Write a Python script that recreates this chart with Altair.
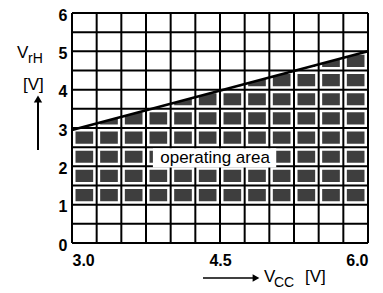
import altair as alt
import pandas as pd

# grid lines (cell boundaries)
x_grid = [3.0, 3.25, 3.5, 3.75, 4.0, 4.25, 4.5, 4.75, 5.0, 5.25, 5.5, 5.75, 6.0]
y_grid = [0.0, 0.5, 1.0, 1.5, 2.0, 2.5, 3.0, 3.5, 4.0, 4.5, 5.0, 5.5, 6.0]

# boundary of the operating area
vcc = [3.0, 6.0]
vrh_upper = [2.95, 5.0]
vrh_lower = [1.0, 1.0]

# axis tick labels
x_ticks = [3.0, 4.5, 6.0]
y_ticks = [0, 1, 2, 3, 4, 5, 6]

# label
label_text = "operating area"
label_x, label_y = 4.45, 2.22
label_box_x = [3.82, 5.07]
label_box_y = [1.97, 2.47]

W, H = 296, 230
FONT = "Liberation Sans"

xs = alt.Scale(domain=[3.0, 6.0], nice=False, zero=False)
ys = alt.Scale(domain=[0, 6], nice=False, zero=False)

X_AX = alt.Axis(values=x_ticks, format=".1f", title=None, grid=False,
                ticks=False, domain=False, labelFont=FONT, labelFontSize=16,
                labelFontWeight="bold", labelColor="black", labelPadding=9,
                labelFlush=True, labelOverlap=False)
Y_AX = alt.Axis(values=y_ticks, format="d", title=None, grid=False,
                ticks=False, domain=False, labelFont=FONT, labelFontSize=16,
                labelFontWeight="bold", labelColor="black", labelPadding=5,
                labelOverlap=False, labelFlush=False, labelOffset=2)

def X(f):
    return alt.X(f, scale=xs, axis=X_AX, title=None)

def Y(f):
    return alt.Y(f, scale=ys, axis=Y_AX, title=None)

area_df = pd.DataFrame({"vcc": vcc, "up": vrh_upper, "lo": vrh_lower})
xg = pd.DataFrame({"x": x_grid})
yg = pd.DataFrame({"y": y_grid})
one = pd.DataFrame({"a": [0]})
box_df = pd.DataFrame({"x1": [label_box_x[0]], "x2": [label_box_x[1]],
                       "y1": [label_box_y[0]], "y2": [label_box_y[1]]})

area = alt.Chart(area_df).mark_area(color="#3e3e3e").encode(
    x=X("vcc:Q"), y=Y("up:Q"), y2="lo:Q")

white_v = alt.Chart(xg).mark_rule(color="white", strokeWidth=7).encode(
    x=X("x:Q"), y=alt.value(0), y2=alt.value(H))
white_h = alt.Chart(yg).mark_rule(color="white", strokeWidth=7).encode(
    y=Y("y:Q"), x=alt.value(0), x2=alt.value(W))

black_v = alt.Chart(xg).mark_rule(color="black", strokeWidth=2).encode(
    x=X("x:Q"), y=alt.value(0), y2=alt.value(H))
black_h = alt.Chart(yg).mark_rule(color="black", strokeWidth=2).encode(
    y=Y("y:Q"), x=alt.value(0), x2=alt.value(W))

box = alt.Chart(box_df).mark_rect(color="white").encode(
    x=X("x1:Q"), x2="x2:Q", y=Y("y1:Q"), y2="y2:Q")

line = alt.Chart(area_df).mark_line(color="black", strokeWidth=2.5).encode(
    x=X("vcc:Q"), y=Y("up:Q"))

label = alt.Chart(pd.DataFrame({"x": [label_x], "y": [label_y], "t": [label_text]})).mark_text(
    font=FONT, fontSize=17, color="black", baseline="middle", align="center").encode(
    x=X("x:Q"), y=Y("y:Q"), text="t:N")

def txt(s, x, y, size):
    return alt.Chart(one).mark_text(text=s, font=FONT, fontSize=size, color="black",
                                    align="left", baseline="alphabetic").encode(
        x=alt.value(x), y=alt.value(y))

# y title
yt_v = txt("V", -55, 45, 17)
yt_s = txt("rH", -44, 50, 14)
yt_u = txt("[V]", -49, 77, 17)
y_arrow = alt.Chart(one).mark_rule(color="black", strokeWidth=2).encode(
    x=alt.value(-34), y=alt.value(137), y2=alt.value(89))
y_head = alt.Chart(one).mark_point(shape="triangle-up", filled=True, color="black",
                                   size=70, opacity=1).encode(x=alt.value(-34), y=alt.value(86))

# x title
x_arrow = alt.Chart(one).mark_rule(color="black", strokeWidth=1.5).encode(
    x=alt.value(131), x2=alt.value(182), y=alt.value(265))
x_head = alt.Chart(one).mark_point(shape="triangle-right", filled=True, color="black",
                                   size=60, opacity=1).encode(x=alt.value(184), y=alt.value(265))
xt_v = txt("V", 192, 269, 17)
xt_s = txt("CC", 202, 274, 14)
xt_u = txt("[V]", 233, 269, 17)

chart = alt.layer(
    area, white_v, white_h, black_v, black_h, box, line, label,
    yt_v, yt_s, yt_u, y_arrow, y_head, x_arrow, x_head, xt_v, xt_s, xt_u
).properties(
    width=W, height=H,
    autosize=alt.AutoSizeParams(type="none"),
    padding={"left": 64, "top": 5, "right": 7, "bottom": 50},
).configure_view(stroke=None)

chart.save("out.html", embed_options={"renderer": "svg", "actions": False})
